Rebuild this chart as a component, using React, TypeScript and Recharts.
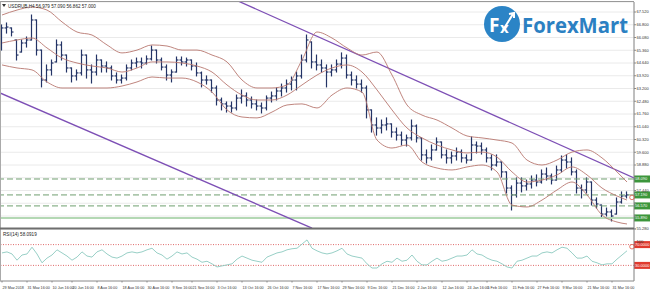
import React from "react";
import {
  ComposedChart,
  Bar,
  Line,
  XAxis,
  YAxis,
  CartesianGrid,
  ReferenceLine,
  ReferenceDot,
} from "recharts";

// USDRUB,H4 bars (open = previous close)
const FIRST_OPEN = 66.2;
const BAR_HIGH = [
  66.79, 66.90, 66.62, 65.94, 65.94, 66.11, 67.35, 67.07, 65.37, 64.53,
  64.81, 65.94, 65.83, 65.09, 64.36, 64.25, 65.37, 65.09, 64.53, 65.09,
  64.81, 64.70, 64.47, 64.08, 63.96, 64.53, 64.81, 64.92, 64.92, 65.04,
  65.60, 65.37, 64.92, 64.53, 64.25, 64.98, 64.98, 64.92, 64.81, 64.64,
  64.13, 63.91, 63.68, 63.34, 62.66, 62.44, 62.44, 62.83, 63.12, 62.95,
  62.72, 62.55, 62.38, 62.78, 63.00, 63.23, 63.45, 63.68, 63.85, 64.13,
  65.09, 66.22, 65.83, 65.09, 64.81, 64.53, 64.53, 64.81, 65.21, 65.09,
  64.13, 63.91, 63.68, 63.34, 61.99, 61.54, 61.42, 61.54, 61.20, 60.97,
  60.74, 60.57, 61.42, 61.14, 60.41, 59.73, 60.01, 60.41, 60.18, 59.73,
  59.61, 59.84, 59.73, 59.45, 60.46, 60.18, 60.12, 59.84, 59.45, 59.45,
  59.05, 58.49, 57.70, 58.15, 58.15, 58.03, 58.26, 58.32, 58.60, 58.71,
  58.37, 58.82, 59.39, 59.45, 59.28, 58.60, 57.75, 58.15, 57.92, 57.02,
  56.62, 56.45, 56.34, 57.02, 57.36, 57.36,
];
const BAR_LOW = [
  65.37, 66.33, 66.17, 64.81, 65.26, 65.54, 65.94, 65.09, 63.29, 63.57,
  63.96, 64.70, 64.81, 64.13, 63.57, 63.68, 63.96, 63.79, 63.51, 63.96,
  64.13, 64.13, 63.68, 63.51, 63.51, 63.68, 64.25, 64.41, 64.36, 64.58,
  64.81, 64.64, 64.25, 63.68, 63.57, 64.13, 64.53, 64.47, 64.25, 63.91,
  63.29, 63.45, 63.00, 62.27, 61.99, 61.87, 61.87, 61.99, 62.38, 62.21,
  62.10, 61.99, 61.82, 61.99, 62.44, 62.55, 62.78, 63.00, 63.12, 63.12,
  63.79, 64.70, 64.36, 64.25, 64.13, 63.29, 63.91, 64.13, 64.36, 63.79,
  63.40, 63.23, 63.00, 61.54, 60.74, 60.57, 60.69, 60.86, 60.46, 60.29,
  60.01, 59.95, 60.29, 60.18, 59.16, 58.99, 59.16, 59.73, 59.28, 58.99,
  58.99, 59.16, 59.05, 58.99, 59.16, 59.56, 59.50, 59.05, 58.60, 58.82,
  58.20, 57.30, 56.34, 57.07, 57.36, 57.47, 57.58, 57.70, 57.86, 58.03,
  57.81, 58.03, 58.49, 58.71, 58.32, 57.30, 57.02, 57.30, 56.62, 56.45,
  55.89, 56.00, 55.72, 56.11, 56.73, 57.02,
];
const BAR_CLOSE = [
  66.62, 66.67, 66.39, 65.09, 65.77, 65.94, 67.07, 65.37, 63.68, 64.25,
  64.64, 65.66, 65.09, 64.36, 63.91, 64.08, 65.09, 64.25, 64.13, 64.81,
  64.47, 64.36, 63.91, 63.68, 63.79, 64.36, 64.64, 64.70, 64.64, 64.87,
  65.37, 64.81, 64.41, 63.96, 64.13, 64.81, 64.70, 64.81, 64.47, 64.08,
  63.68, 63.68, 63.23, 62.55, 62.33, 62.21, 62.10, 62.66, 62.78, 62.55,
  62.33, 62.21, 62.10, 62.66, 62.78, 63.06, 63.23, 63.45, 63.68, 63.91,
  64.81, 65.94, 64.70, 64.53, 64.36, 64.13, 64.25, 64.58, 64.92, 63.96,
  63.68, 63.45, 63.23, 61.99, 61.14, 60.97, 61.14, 61.20, 60.74, 60.57,
  60.29, 60.41, 61.08, 60.41, 59.45, 59.28, 59.73, 60.18, 59.45, 59.28,
  59.39, 59.61, 59.28, 59.16, 60.01, 59.95, 59.73, 59.28, 58.88, 59.05,
  58.49, 57.58, 57.19, 57.86, 57.70, 57.81, 58.03, 57.92, 58.37, 58.26,
  58.03, 58.60, 59.16, 59.05, 58.49, 57.58, 57.47, 57.92, 56.90, 56.68,
  56.11, 56.23, 56.00, 56.79, 57.13, 57.19,
];

// RSI(14)
const RSI = [
  54, 56, 52, 40, 50, 52, 65, 52, 35, 44,
  50, 60, 54, 48, 40, 46, 56, 48, 46, 56,
  60, 52, 46, 44, 48, 54, 56, 54, 56, 60,
  63, 54, 50, 42, 48, 56, 52, 54, 46, 42,
  36, 38, 33, 27, 29, 31, 33, 42, 48, 44,
  40, 38, 36, 46, 50, 54, 56, 60, 62, 63,
  71, 79, 63, 58, 54, 52, 54, 58, 63, 52,
  48, 46, 44, 33, 25, 25, 33, 38, 36, 44,
  38, 40, 50, 38, 31, 31, 38, 44, 38, 40,
  44, 48, 48, 50, 60, 52, 50, 44, 40, 38,
  33, 27, 25, 38, 40, 44, 48, 48, 54, 56,
  54, 60, 65, 63, 54, 44, 44, 48, 38, 35,
  31, 33, 33, 42, 50, 58.09,
];

// Bollinger bands, read at every third bar
const BAND_AT = [
  0, 3, 6, 9, 12, 15, 18, 21, 24, 27, 30, 33, 36, 39, 42, 45, 48, 51, 54, 57,
  60, 63, 66, 69, 72, 75, 78, 81, 84, 87, 90, 93, 96, 99, 102, 105, 108, 111,
  114, 117, 120, 123, 125,
];
const BB_UPPER = [
  67.35, 67.63, 67.80, 67.63, 66.96, 66.39, 66.22, 65.66, 65.21, 65.37,
  65.66, 65.60, 65.37, 65.37, 65.09, 64.70, 63.68, 63.23, 63.23, 63.40,
  64.81, 66.39, 66.05, 65.49, 65.09, 65.26, 63.96, 62.27, 61.70, 61.42,
  60.97, 60.52, 60.41, 60.29, 60.12, 59.16, 58.88, 59.16, 59.61, 59.73,
  59.28, 58.49, 57.92,
];
const BB_MID = [
  65.77, 65.94, 66.05, 65.49, 64.92, 64.64, 64.47, 64.36, 64.13, 64.36,
  64.70, 64.70, 64.64, 64.47, 64.13, 63.40, 62.83, 62.55, 62.55, 62.83,
  63.40, 63.96, 64.36, 64.53, 64.13, 63.12, 61.99, 60.97, 60.41, 60.01,
  59.73, 59.56, 59.61, 59.33, 58.49, 57.92, 58.03, 58.32, 58.77, 58.32,
  57.58, 57.13, 56.90,
];
const BB_LOWER = [
  64.53, 64.36, 64.25, 63.57, 63.23, 63.23, 63.23, 63.23, 63.34, 63.57,
  63.85, 63.79, 63.79, 63.57, 63.00, 61.99, 61.59, 61.54, 61.87, 62.27,
  62.33, 62.10, 62.83, 63.23, 63.00, 60.29, 59.84, 60.01, 59.05, 58.71,
  58.60, 58.77, 58.88, 58.49, 56.62, 56.51, 56.90, 57.47, 57.92, 57.19,
  56.06, 55.66, 55.55,
];

// hand-drawn objects on the chart
const TREND_UPPER = [{ x: 45, y: 68.42 }, { x: 126.4, y: 58.15 }];
const TREND_LOWER = [{ x: -0.4, y: 62.95 }, { x: 62, y: 55.32 }];
const LEVELS = [
  { price: 58.09, label: "58.090", dashed: true },
  { price: 57.19, label: "57.190", dashed: true },
  { price: 56.57, label: "56.570", dashed: true },
  { price: 55.89, label: "55.890", dashed: false },
];

const Y_TICKS = [
  67.52, 66.8, 66.08, 65.36, 64.64, 63.92, 63.2, 62.48, 61.76, 61.04, 60.32,
  59.6, 58.88, 58.16, 57.44, 56.72, 56.0, 55.28,
];
const X_TICKS = [
  0, 5, 10, 14, 19, 24, 29, 34, 38, 43, 48, 53, 58, 63, 68, 73, 78, 83, 88,
  93, 97, 102, 107, 112, 117, 122,
];
const X_LABELS = [
  "29 May 2018", "31 May 16:00", "10 Jun 16:00", "20 Jun 16:00",
  "8 Aug 16:00", "18 Aug 16:00", "30 Aug 16:00", "9 Sep 16:00",
  "21 Sep 16:00", "3 Oct 16:00", "13 Oct 16:00", "26 Oct 16:00",
  "7 Nov 16:00", "17 Nov 16:00", "29 Nov 16:00", "9 Dec 16:00",
  "21 Dec 16:00", "2 Jan 16:00", "12 Jan 16:00", "24 Jan 16:00",
  "5 Feb 16:00", "15 Feb 16:00", "27 Feb 16:00", "9 Mar 16:00",
  "21 Mar 16:00", "31 Mar 16:00",
];

const X_DOMAIN: [number, number] = [-0.4, 126.4];
const GRID_TICKS = X_TICKS.flatMap((t, k) =>
  k < X_TICKS.length - 1 ? [t, (t + X_TICKS[k + 1]) / 2] : [t, t + 2.4]
);

const rows: any[] = BAR_HIGH.map((h, i) => ({
  i,
  range: [BAR_LOW[i], h],
  high: h,
  low: BAR_LOW[i],
  open: i === 0 ? FIRST_OPEN : BAR_CLOSE[i - 1],
  close: BAR_CLOSE[i],
  rsi: RSI[i],
  upper: null,
  mid: null,
  lower: null,
}));
BAND_AT.forEach((bi, k) => {
  rows[bi].upper = BB_UPPER[k];
  rows[bi].mid = BB_MID[k];
  rows[bi].lower = BB_LOWER[k];
});

const FONT = "'Liberation Sans', Arial, sans-serif";
const BAR_COLOR = "#243466";
const BAND_COLOR = "#b8776f";
const TREND_COLOR = "#7d4fb5";
const AXIS_X = 634;

function OhlcShape(props: any) {
  const { x, y, width, height, payload } = props;
  if (x == null || payload == null) return null;
  const top = Math.min(y, y + height);
  const bottom = Math.max(y, y + height);
  const span = payload.high - payload.low || 1;
  const toY = (v: number) => top + ((payload.high - v) / span) * (bottom - top);
  const open = Math.min(payload.high, Math.max(payload.low, payload.open));
  const cx = x + width / 2;
  const oy = toY(open);
  const cy = toY(payload.close);
  return (
    <g stroke={BAR_COLOR} strokeWidth={1.2}>
      <line x1={cx} x2={cx} y1={top - 0.5} y2={bottom + 0.5} />
      <line x1={cx - 2} x2={cx} y1={oy} y2={oy} />
      <line x1={cx} x2={cx + 2} y1={cy} y2={cy} />
    </g>
  );
}

function tag(text: string, bg: string) {
  return (p: any) => {
    const vb = p.viewBox || {};
    const x = (vb.x ?? 0) + (vb.width ?? 0);
    const y = vb.y ?? 0;
    return (
      <g>
        <rect x={x} y={y - 3.5} width={16} height={7} fill={bg} />
        <text x={x + 1} y={y + 1.5} fontSize={4} fill="#fff" fontFamily={FONT}>
          {text}
        </text>
      </g>
    );
  };
}

// price labels hidden behind the level tags are not drawn
function PriceTick(props: any) {
  const { y, payload } = props;
  const v = Number(payload.value);
  if (LEVELS.some((lv) => Math.abs(lv.price - v) < 0.16)) return null;
  return (
    <text x={AXIS_X + 2.5} y={y + 1.4} fontSize={4} fill="#333" fontFamily={FONT}>
      {v.toFixed(3)}
    </text>
  );
}

function RsiTick(props: any) {
  const { y, payload } = props;
  const v = Number(payload.value);
  return (
    <text x={AXIS_X + 2.5} y={v === 100 ? y + 4.5 : y - 1} fontSize={4} fill="#333" fontFamily={FONT}>
      {v}
    </text>
  );
}

function XTick(props: any) {
  const { x, y, payload } = props;
  const k = X_TICKS.indexOf(payload.value);
  return (
    <text x={x + 0.5} y={y + 4.2} fontSize={3.7} fill="#333" fontFamily={FONT}>
      {k >= 0 ? X_LABELS[k] : ""}
    </text>
  );
}

export default function App() {
  return (
    <div
      style={{
        position: "absolute",
        left: 0,
        top: 0,
        width: 650,
        height: 289,
        background: "#fff",
        overflow: "hidden",
        fontFamily: FONT,
      }}
    >
      {/* price pane */}
      <div style={{ position: "absolute", left: 0, top: 0 }}>
        <ComposedChart
          width={650}
          height={234}
          data={rows}
          margin={{ top: 2, right: 0, bottom: 5, left: 0 }}
        >
          <XAxis dataKey="i" type="number" domain={X_DOMAIN} hide allowDataOverflow />
          <XAxis
            xAxisId="g"
            dataKey="i"
            type="number"
            domain={X_DOMAIN}
            ticks={GRID_TICKS}
            height={0}
            tick={false}
            tickLine={false}
            axisLine={false}
            allowDataOverflow
          />
          <YAxis
            orientation="right"
            width={16}
            domain={[55.266, 68.085]}
            ticks={Y_TICKS}
            interval={0}
            allowDataOverflow
            tickSize={2}
            tick={<PriceTick />}
            stroke="#888"
          />
          <CartesianGrid xAxisId="g" stroke="#e4e4e4" strokeWidth={0.8} />
          {LEVELS.map((lv) => (
            <ReferenceLine
              key={lv.label}
              y={lv.price}
              stroke={lv.dashed ? "#6f9f6f" : "#b4d8b4"}
              strokeWidth={lv.dashed ? 1 : 2}
              strokeDasharray={lv.dashed ? "6 3" : undefined}
              label={tag(lv.label, "#3c963c")}
            />
          ))}
          <ReferenceLine
            segment={TREND_UPPER}
            stroke={TREND_COLOR}
            strokeWidth={1.3}
            ifOverflow="hidden"
          />
          <ReferenceLine
            segment={TREND_LOWER}
            stroke={TREND_COLOR}
            strokeWidth={1.3}
            ifOverflow="hidden"
          />
          <Line dataKey="upper" type="monotone" stroke={BAND_COLOR} strokeWidth={0.9} dot={false} connectNulls isAnimationActive={false} />
          <Line dataKey="mid" type="monotone" stroke={BAND_COLOR} strokeWidth={0.9} dot={false} connectNulls isAnimationActive={false} />
          <Line dataKey="lower" type="monotone" stroke={BAND_COLOR} strokeWidth={0.9} dot={false} connectNulls isAnimationActive={false} />
          <Bar dataKey="range" barSize={4} shape={OhlcShape} isAnimationActive={false} />
          <ReferenceDot x={126} y={57.05} r={2.3} fill="none" stroke="#e05545" strokeWidth={0.8} ifOverflow="visible" />
        </ComposedChart>
      </div>

      {/* RSI pane */}
      <div style={{ position: "absolute", left: 0, top: 229 }}>
        <ComposedChart
          width={650}
          height={60}
          data={rows}
          margin={{ top: 0, right: 0, bottom: 0, left: 0 }}
        >
          <XAxis
            dataKey="i"
            type="number"
            domain={X_DOMAIN}
            ticks={X_TICKS}
            interval={0}
            height={8}
            tickSize={1.5}
            stroke="#888"
            tick={<XTick />}
            allowDataOverflow
          />
          <XAxis
            xAxisId="g"
            dataKey="i"
            type="number"
            domain={X_DOMAIN}
            ticks={GRID_TICKS}
            height={0}
            tick={false}
            tickLine={false}
            axisLine={false}
            allowDataOverflow
          />
          <YAxis
            orientation="right"
            width={16}
            domain={[0, 100]}
            ticks={[0, 100]}
            tickSize={2}
            tick={<RsiTick />}
            stroke="#888"
          />
          <CartesianGrid xAxisId="g" horizontal={false} stroke="#e4e4e4" strokeWidth={0.8} />
          <ReferenceLine y={70} stroke="#e06a6a" strokeDasharray="1 1.5" label={tag("70.0000", "#e03a2e")} />
          <ReferenceLine y={30} stroke="#e06a6a" strokeDasharray="1 1.5" label={tag("30.0000", "#e03a2e")} />
          <Line dataKey="rsi" type="linear" stroke="#8cc9c0" strokeWidth={0.9} dot={false} isAnimationActive={false} />
          <ReferenceDot x={126} y={66} r={2.3} fill="none" stroke="#e05545" strokeWidth={0.8} ifOverflow="visible" />
        </ComposedChart>
      </div>

      {/* frame, captions and logo */}
      <svg
        width={650}
        height={289}
        style={{ position: "absolute", left: 0, top: 0, pointerEvents: "none" }}
      >
        <line x1={0} x2={634} y1={1.5} y2={1.5} stroke="#999" />
        <line x1={0.5} x2={0.5} y1={1.5} y2={281} stroke="#aaa" />
        <line x1={0} x2={634} y1={228.5} y2={228.5} stroke="#6e6e6e" strokeWidth={2} />
        <polygon points="2,4 6,4 4,7" fill="#333" />
        <text x={8} y={7.5} fontSize={4.6} fill="#222" fontFamily={FONT}>
          USDRUB,H4  56.979 57.090 56.862 57.000
        </text>
        <text x={3} y={235.5} fontSize={4.6} fill="#222" fontFamily={FONT}>
          RSI(14) 58.0919
        </text>
        <circle cx={502} cy={24} r={18} fill="#2b84c6" />
        <text x={489} y={32} fontSize={19} fontWeight={700} fill="#fff" fontFamily="'Open Sans', sans-serif">
          F
        </text>
        <text x={500} y={33} fontSize={15} fontWeight={700} fill="#fff" fontFamily="'Open Sans', sans-serif">
          x
        </text>
        <path d="M503 30 L513 14 M509 14 L514 13 L514 18" stroke="#fff" strokeWidth={2} fill="none" />
        <text
          x={522}
          y={33}
          fontSize={22}
          fontWeight={700}
          fill="#2b80c2"
          fontFamily="'Open Sans', sans-serif"
          textLength={106}
          lengthAdjust="spacingAndGlyphs"
        >
          ForexMart
        </text>
      </svg>
    </div>
  );
}
